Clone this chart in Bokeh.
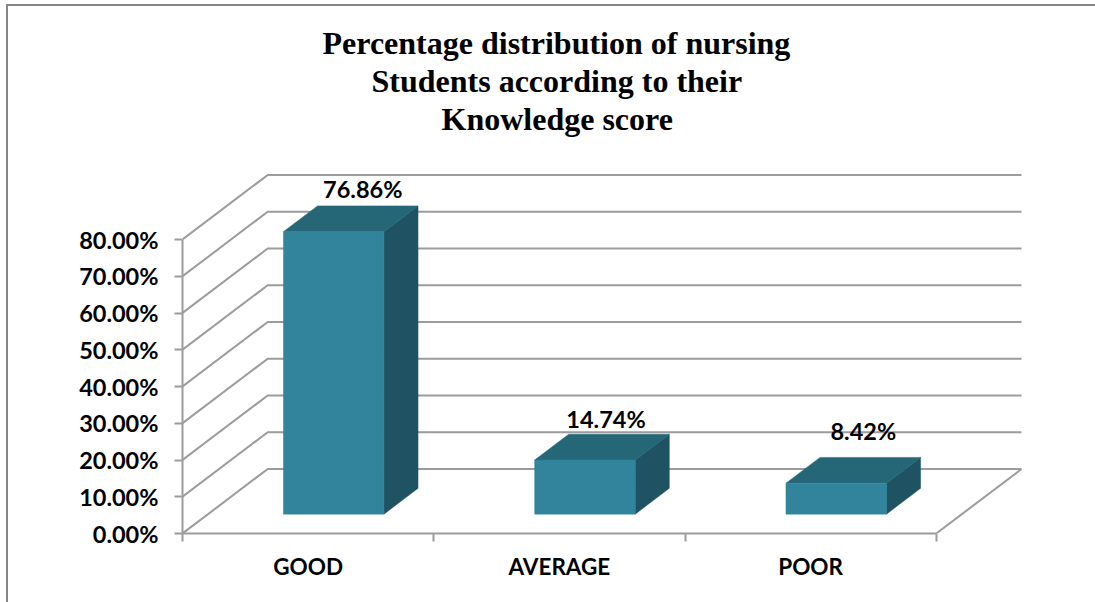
from bokeh.plotting import figure, ColumnDataSource
from bokeh.models import FixedTicker, PrintfTickFormatter, Title
from bokeh.core.properties import value
from bokeh.embed import file_html
from bokeh.resources import INLINE

title_lines = ["Percentage distribution of nursing", "Students according to their", "Knowledge score"]
categories = ["GOOD", "AVERAGE", "POOR"]
percentages = [76.86, 14.74, 8.42]
value_labels = ["76.86%", "14.74%", "8.42%"]
y_ticks = [0, 10, 20, 30, 40, 50, 60, 70, 80]

GRID = "#9c9c9c"
FRONT, TOP, SIDE = "#31849b", "#256677", "#1f5363"
LABEL_FONT = "Lato"

# 3D projection: depth d in 0..1 shifts a point right and up
PX_CAT, PX_VAL = 250.67, 3.675
DX, DY = 85 / PX_CAT, 64.5 / PX_VAL


def proj(cat, val, d):
    return cat + d * DX, val + d * DY


n = len(categories)
p = figure(width=1089, height=598, output_backend="svg", toolbar_location=None,
           x_range=(0, 847 / PX_CAT), y_range=(0, 397 / PX_VAL),
           min_border_left=174, min_border_right=66, min_border_top=130, min_border_bottom=71,
           outline_line_color=None, background_fill_color="white", border_fill_color="white")
p.styles = {"border-left": "2px solid #858585", "border-top": "2px solid #858585",
            "box-sizing": "border-box", "margin-left": "6px", "margin-top": "4px"}
p.grid.visible = False

# title: one centred line per Title object (the first one added sits nearest the plot)
p.title = None
offsets = [140, 189, 259]
for line, off in reversed(list(zip(title_lines, offsets))):
    p.add_layout(Title(text=line, align="left", offset=off, standoff=0,
                       text_font="Liberation Serif", text_font_size="32px",
                       text_font_style="bold", text_color="black"), "above")

# axes
ya = p.yaxis[0]
ya.ticker = FixedTicker(ticks=y_ticks)
ya.formatter = PrintfTickFormatter(format="%.2f%%")
ya.bounds = (0, 80)
xa = p.xaxis[0]
xa.ticker = FixedTicker(ticks=[i + 0.5 for i in range(n)], minor_ticks=list(range(n + 1)))
xa.major_label_overrides = {i + 0.5: c for i, c in enumerate(categories)}
xa.bounds = (0, n)
xa.major_tick_in = xa.major_tick_out = 0
xa.minor_tick_in = 0
xa.minor_tick_out = 8
xa.minor_tick_line_color = GRID
xa.minor_tick_line_width = 2
ya.major_tick_in = 0
ya.major_tick_out = 8
ya.minor_tick_line_color = None
ya.major_tick_line_color = GRID
ya.major_tick_line_width = 2
ya.major_label_standoff = 16
xa.major_label_standoff = 11
for a in (xa, ya):
    a.axis_line_color = GRID
    a.axis_line_width = 2
    a.major_label_text_font = LABEL_FONT
    a.major_label_text_font_style = "bold"
    a.major_label_text_color = "black"
xa.major_label_text_font_size = "22.5px"
ya.major_label_text_font_size = "23.5px"

# walls and floor
wx, wy = [], []
for v in y_ticks:
    a, b, c = proj(0, v, 0), proj(0, v, 1), proj(n, v, 1)
    wx.append([a[0], b[0], c[0]])
    wy.append([a[1], b[1], c[1]])
a, b = proj(n, 0, 0), proj(n, 0, 1)
wx.append([a[0], b[0]])
wy.append([a[1], b[1]])
p.multi_line(wx, wy, line_color=GRID, line_width=2)

# bars
B0, B1 = 0.3, 0.7
front, top, side = ([], []), ([], []), ([], [])


def add(store, pts):
    store[0].append([q[0] for q in pts])
    store[1].append([q[1] for q in pts])


for i, v in enumerate(percentages):
    l, r = i + B0, i + B1
    add(front, [proj(l, 0, B0), proj(r, 0, B0), proj(r, v, B0), proj(l, v, B0)])
    add(top, [proj(l, v, B0), proj(r, v, B0), proj(r, v, B1), proj(l, v, B1)])
    add(side, [proj(r, 0, B0), proj(r, 0, B1), proj(r, v, B1), proj(r, v, B0)])
p.patches(side[0], side[1], fill_color=SIDE, line_color=SIDE, line_width=0.5)
p.patches(top[0], top[1], fill_color=TOP, line_color=TOP, line_width=0.5)
p.patches(front[0], front[1], fill_color=FRONT, line_color=FRONT, line_width=0.5)

# value labels
anchors = [proj(i + 0.5, v, B1) for i, v in enumerate(percentages)]
src = ColumnDataSource(dict(x=[q[0] for q in anchors], y=[q[1] for q in anchors], t=value_labels,
                            xo=[-5, -13, -7], yo=[-17, -15, -26]))
p.text("x", "y", text="t", source=src, x_offset="xo", y_offset="yo",
       text_font=value(LABEL_FONT), text_font_style="bold", text_font_size="23.5px",
       text_color="black", text_align="center", text_baseline="middle")

open("out.html", "w").write(file_html(p, INLINE))
